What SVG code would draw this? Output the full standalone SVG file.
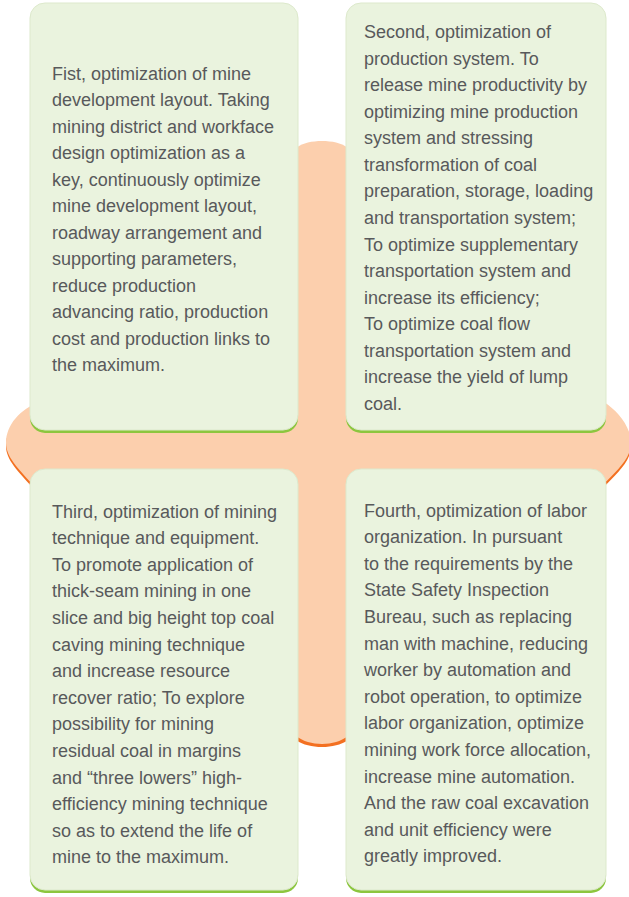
<svg xmlns="http://www.w3.org/2000/svg" width="629" height="897" viewBox="0 0 629 897">
<style>
.sh{fill:#f37021}
.bg{fill:#fccfad}
.cs{fill:#8cc63f}
.cf{fill:#eaf3de;stroke:#dde9cc;stroke-width:1}
.t{font-family:"Liberation Sans",Arial,sans-serif;font-size:18px;fill:#58595b}
</style>
<rect width="629" height="897" fill="#ffffff"/>
<g id="cross">
<path class="sh" d="M 40 405 C 20 412 6 428 6 446 C 6 460 18 471 32 487 L 604 487 C 616 474 631 462 631 446 C 631 430 618 414 604 405 Z"/>
<path class="sh" d="M 286 172 C 286 152 302 144 322 144 C 342 144 358 152 358 172 L 358 722 C 358 738 342 747 322 747 C 302 747 286 738 286 722 Z"/>
<path class="bg" d="M 40 402 C 20 409 6 425 6 443 C 6 457 18 468 32 484 L 604 484 C 616 471 631 459 631 443 C 631 427 618 411 604 402 Z"/>
<path class="bg" d="M 286 169 C 286 149 302 141 322 141 C 342 141 358 149 358 169 L 358 716 C 358 733 342 744 322 744 C 302 744 286 733 286 716 Z"/>
</g>
<g id="card1">
<rect class="cs" x="30" y="6" width="268" height="427" rx="15"/>
<rect class="cf" x="30" y="3" width="268" height="427" rx="15"/>
<text class="t" y="79.5"><tspan x="52">Fist, optimization of mine</tspan><tspan x="52" dy="26.5">development layout. Taking</tspan><tspan x="52" dy="26.5">mining district and workface</tspan><tspan x="52" dy="26.5">design optimization as a</tspan><tspan x="52" dy="26.5">key, continuously optimize</tspan><tspan x="52" dy="26.5">mine development layout,</tspan><tspan x="52" dy="26.5">roadway arrangement and</tspan><tspan x="52" dy="26.5">supporting parameters,</tspan><tspan x="52" dy="26.5">reduce production</tspan><tspan x="52" dy="26.5">advancing ratio, production</tspan><tspan x="52" dy="26.5">cost and production links to</tspan><tspan x="52" dy="26.5">the maximum.</tspan></text>
</g>
<g id="card2">
<rect class="cs" x="346" y="6" width="260" height="427" rx="15"/>
<rect class="cf" x="346" y="3" width="260" height="427" rx="15"/>
<text class="t" y="38"><tspan x="364">Second, optimization of</tspan><tspan x="364" dy="26.57">production system. To</tspan><tspan x="364" dy="26.57">release mine productivity by</tspan><tspan x="364" dy="26.57">optimizing mine production</tspan><tspan x="364" dy="26.57">system and stressing</tspan><tspan x="364" dy="26.57">transformation of coal</tspan><tspan x="364" dy="26.57">preparation, storage, loading</tspan><tspan x="364" dy="26.57">and transportation system;</tspan><tspan x="364" dy="26.57">To optimize supplementary</tspan><tspan x="364" dy="26.57">transportation system and</tspan><tspan x="364" dy="26.57">increase its efficiency;</tspan><tspan x="364" dy="26.57">To optimize coal flow</tspan><tspan x="364" dy="26.57">transportation system and</tspan><tspan x="364" dy="26.57">increase the yield of lump</tspan><tspan x="364" dy="26.57">coal.</tspan></text>
</g>
<g id="card3">
<rect class="cs" x="30" y="472" width="268" height="421" rx="15"/>
<rect class="cf" x="30" y="469" width="268" height="421" rx="15"/>
<text class="t" y="517.5"><tspan x="52">Third, optimization of mining</tspan><tspan x="52" dy="26.6">technique and equipment.</tspan><tspan x="52" dy="26.6">To promote application of</tspan><tspan x="52" dy="26.6">thick-seam mining in one</tspan><tspan x="52" dy="26.6">slice and big height top coal</tspan><tspan x="52" dy="26.6">caving mining technique</tspan><tspan x="52" dy="26.6">and increase resource</tspan><tspan x="52" dy="26.6">recover ratio; To explore</tspan><tspan x="52" dy="26.6">possibility for mining</tspan><tspan x="52" dy="26.6">residual coal in margins</tspan><tspan x="52" dy="26.6">and “three lowers” high-</tspan><tspan x="52" dy="26.6">efficiency mining technique</tspan><tspan x="52" dy="26.6">so as to extend the life of</tspan><tspan x="52" dy="26.6">mine to the maximum.</tspan></text>
</g>
<g id="card4">
<rect class="cs" x="346" y="472" width="260" height="421" rx="15"/>
<rect class="cf" x="346" y="469" width="260" height="421" rx="15"/>
<text class="t" y="516.5"><tspan x="364">Fourth, optimization of labor</tspan><tspan x="364" dy="26.6">organization. In pursuant</tspan><tspan x="364" dy="26.6">to the requirements by the</tspan><tspan x="364" dy="26.6">State Safety Inspection</tspan><tspan x="364" dy="26.6">Bureau, such as replacing</tspan><tspan x="364" dy="26.6">man with machine, reducing</tspan><tspan x="364" dy="26.6">worker by automation and</tspan><tspan x="364" dy="26.6">robot operation, to optimize</tspan><tspan x="364" dy="26.6">labor organization, optimize</tspan><tspan x="364" dy="26.6">mining work force allocation,</tspan><tspan x="364" dy="26.6">increase mine automation.</tspan><tspan x="364" dy="26.6">And the raw coal excavation</tspan><tspan x="364" dy="26.6">and unit efficiency were</tspan><tspan x="364" dy="26.6">greatly improved.</tspan></text>
</g>
<g id="connectors"/>
</svg>
